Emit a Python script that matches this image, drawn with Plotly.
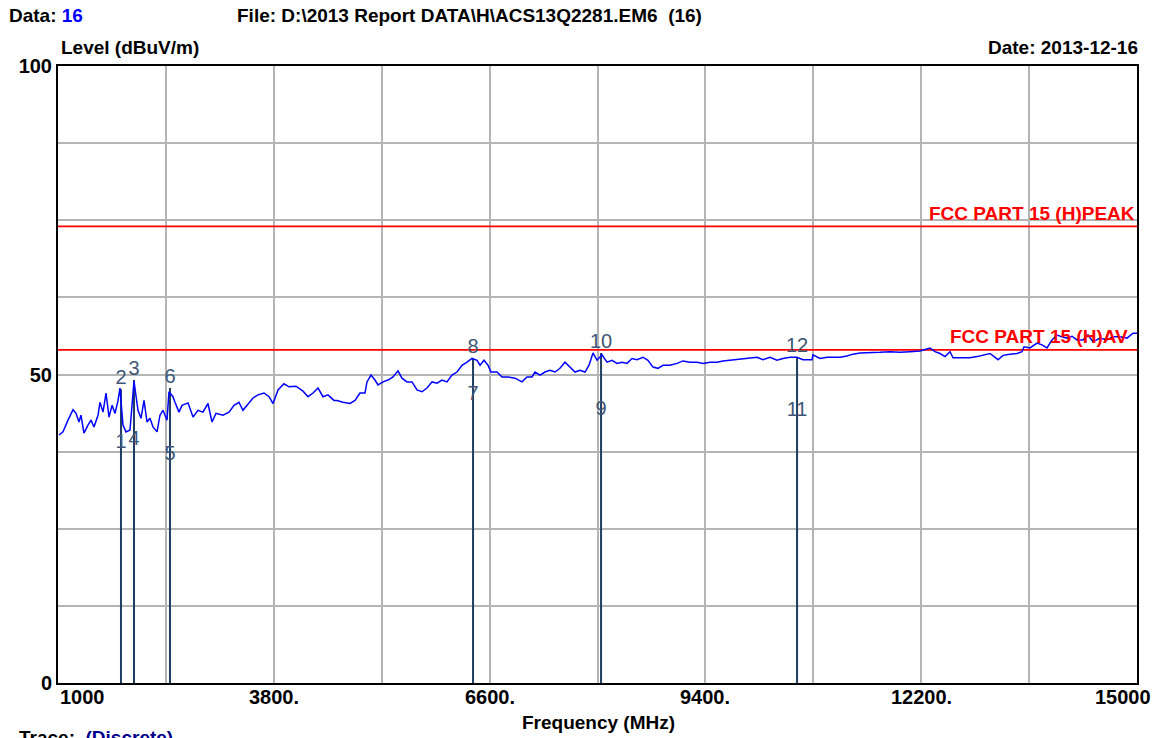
import plotly.graph_objects as go

# ---------------- data ----------------
freq_mhz = [1013, 1065, 1130, 1195, 1234, 1272, 1298, 1337, 1389, 1428, 1467, 1519, 1545, 1584, 1623,
            1662, 1701, 1740, 1779, 1804, 1843, 1882, 1934, 1986, 2038, 2077, 2116, 2155, 2193, 2233,
            2285, 2323, 2362, 2414, 2440, 2492, 2518, 2570, 2609, 2687, 2752, 2816, 2881, 2946, 2998,
            3050, 3141, 3219, 3284, 3348, 3400, 3465, 3530, 3595, 3673, 3738, 3790, 3855, 3932, 3997,
            4088, 4179, 4244, 4309, 4374, 4438, 4503, 4581, 4620, 4698, 4789, 4854, 4918, 4983, 5009,
            5061, 5113, 5152, 5217, 5282, 5347, 5412, 5463, 5528, 5593, 5658, 5723, 5788, 5853, 5918,
            5982, 6047, 6112, 6177, 6242, 6307, 6372, 6437, 6476, 6527, 6579, 6618, 6696, 6761, 6839,
            6930, 7020, 7085, 7150, 7189, 7254, 7319, 7384, 7449, 7513, 7578, 7643, 7708, 7773, 7838,
            7890, 7942, 7994, 8058, 8123, 8188, 8253, 8318, 8383, 8448, 8513, 8590, 8655, 8720, 8785,
            8850, 8941, 9032, 9109, 9200, 9291, 9369, 9460, 9551, 9628, 9719, 9810, 9888, 9979, 10070,
            10147, 10238, 10329, 10407, 10498, 10589, 10666, 10783, 10796, 10887, 10978, 11056, 11147,
            11237, 11315, 11406, 11497, 11536, 11665, 11795, 11925, 12055, 12184, 12314, 12379, 12444,
            12509, 12574, 12613, 12703, 12833, 12924, 13002, 13093, 13197, 13261, 13352, 13443, 13508,
            13534, 13612, 13703, 13767, 13832, 13897, 13962, 14027, 14092, 14157, 14222, 14300, 14364,
            14429, 14520, 14611, 14689, 14780, 14871, 14948, 15000]
level_dbuv = [40.2, 40.7, 42.6, 44.3, 43.7, 42.3, 43.4, 40.5, 41.8, 42.6, 41.5, 43.4, 45.5, 43.9, 47.0,
              43.1, 45.0, 43.7, 45.8, 47.8, 41.8, 40.7, 41.0, 48.9, 44.2, 42.9, 45.8, 42.3, 42.9, 41.5,
              40.7, 43.4, 44.2, 42.6, 47.2, 46.4, 45.5, 43.9, 45.0, 45.4, 43.1, 44.2, 43.9, 45.3, 42.3,
              43.7, 43.4, 43.9, 45.0, 45.5, 44.2, 45.3, 46.2, 46.7, 47.0, 46.4, 45.3, 47.5, 48.5, 48.0,
              48.1, 47.3, 46.4, 47.0, 47.8, 46.4, 46.7, 45.8, 45.8, 45.5, 45.3, 45.8, 47.0, 47.0, 48.8,
              49.9, 49.1, 48.3, 48.8, 49.1, 49.6, 50.6, 49.4, 48.8, 48.8, 47.5, 47.2, 47.8, 48.8, 48.6,
              49.1, 48.8, 49.9, 50.4, 51.5, 52.0, 52.6, 52.3, 51.5, 52.3, 51.5, 50.4, 50.4, 49.6, 49.6,
              49.4, 48.8, 49.6, 49.6, 50.4, 49.9, 50.4, 50.7, 50.4, 51.0, 52.0, 51.2, 50.4, 50.7, 50.4,
              51.5, 53.5, 52.3, 53.2, 52.0, 52.3, 51.8, 52.0, 51.8, 52.6, 52.4, 52.8, 52.3, 51.2, 51.0,
              51.5, 51.5, 51.8, 52.2, 52.0, 52.0, 51.8, 52.0, 52.0, 52.2, 52.3, 52.4, 52.6, 52.6, 52.8,
              52.4, 52.8, 52.3, 52.6, 52.8, 52.8, 52.4, 52.4, 53.2, 52.6, 52.8, 52.8, 52.8,
              53.0, 53.3, 53.5, 53.5, 53.6, 53.6, 53.7, 53.6, 53.7, 53.8, 54.3, 53.7, 53.4,
              52.9, 53.7, 52.7, 52.7, 52.7, 52.9, 53.1, 53.4, 52.4, 53.1, 53.3, 53.4, 53.7,
              54.5, 54.3, 55.1, 54.8, 54.3, 55.6, 56.4, 56.1, 55.9, 56.2, 55.6, 55.6, 56.4,
              55.3, 55.9, 55.6, 56.1, 56.1, 55.9, 56.7, 56.7]

marker_freq = [1817, 1817, 1986, 1986, 2453, 2453, 6385, 6385, 8046, 8046, 10589, 10589]
marker_level = [37.3, 47.6, 49.1, 37.8, 35.3, 47.8, 45.1, 52.6, 42.6, 53.5, 42.5, 52.8]
marker_label = ["1", "2", "3", "4", "5", "6", "7", "8", "9", "10", "11", "12"]

limit_names = ["FCC PART 15 (H)PEAK", "FCC PART 15 (H)AV"]
limit_values = [74, 54]

x_min, x_max, x_step = 1000, 15000, 1400
y_min, y_max, y_step = 0, 100, 12.5
xtick_vals = [1000, 3800, 6600, 9400, 12200, 15000]
xtick_text = ["1000", "3800.", "6600.", "9400.", "12200.", "15000"]
ytick_vals = [0, 50, 100]
ytick_text = ["0", "50", "100"]

# ---------------- figure ----------------
FONT = "Liberation Sans"
L, R, T, B = 58, 19, 66, 55
W, H = 1156, 738
PW = W - L - R

fig = go.Figure()

# marker vertical lines (from 0 to the higher of each pair)
lx, ly = [], []
seen = {}
for f, v in zip(marker_freq, marker_level):
    seen[f] = max(seen.get(f, 0), v)
for f, v in seen.items():
    lx += [f, f, None]
    ly += [0, v, None]
fig.add_trace(go.Scatter(x=lx, y=ly, mode="lines",
                         line=dict(color="#1f3d63", width=2), hoverinfo="skip"))

# limit lines
for v in limit_values:
    fig.add_trace(go.Scatter(x=[x_min, x_max], y=[v, v], mode="lines",
                             line=dict(color="#ff0000", width=1.8), hoverinfo="skip"))

# measured trace
fig.add_trace(go.Scatter(x=freq_mhz, y=level_dbuv, mode="lines",
                         line=dict(color="#0000ff", width=1.5), hoverinfo="skip"))

# marker labels
fig.add_trace(go.Scatter(x=marker_freq, y=marker_level, mode="text", text=marker_label,
                         textposition="top center",
                         textfont=dict(family=FONT, size=20, color="#3e5675"),
                         hoverinfo="skip"))

grid_x = [x_min + i * x_step for i in range(int((x_max - x_min) / x_step) + 1)]
grid_y = [y_min + i * y_step for i in range(int((y_max - y_min) / y_step) + 1)]

fig.update_xaxes(range=[x_min, x_max], tickvals=grid_x, showticklabels=False,
                 showgrid=True, gridcolor="#b4b4b4", gridwidth=1.6, zeroline=False,
                 showline=True, linecolor="#000000", linewidth=2, mirror=True, ticks="")
fig.update_yaxes(range=[y_min, y_max], tickvals=grid_y,
                 ticktext=[ytick_text[ytick_vals.index(v)] if v in ytick_vals else "" for v in grid_y],
                 tickfont=dict(family=FONT, size=20, color="#000000", weight="bold"),
                 showgrid=True, gridcolor="#b4b4b4", gridwidth=1.6, zeroline=False,
                 showline=True, linecolor="#000000", linewidth=2, mirror=True, ticks="")


def ann(text, xpx, ypx, xanchor="left", size=19, color="#000000", bold=True, yanchor="middle"):
    fig.add_annotation(text=("<b>%s</b>" % text) if bold else text,
                       xref="paper", yref="paper", x=(xpx - L) / PW, y=1,
                       yshift=T - ypx, xanchor=xanchor, yanchor=yanchor, showarrow=False,
                       font=dict(family=FONT, size=size, color=color), borderpad=0)


ann("Data: <span style='color:#0000ff'>16</span>", 8, 15)
ann("File: D:\\2013 Report DATA\\H\\ACS13Q2281.EM6&nbsp;&nbsp;(16)", 236, 15)
ann("Level (dBuV/m)", 60, 47)
ann("Date: 2013-12-16", 1139, 47, xanchor="right")
ann("Frequency (MHz)", 598, 722, xanchor="center")
ann("Trace:&nbsp;&nbsp;<span style='color:#00008b'>(Discrete)</span>", 18, 726, yanchor="top")

# limit names
ann(limit_names[0], 1136, 213, xanchor="right", color="#ff0000")
ann(limit_names[1], 1129, 336, xanchor="right", color="#ff0000")

# x tick labels
for v, t in zip(xtick_vals, xtick_text):
    px = L + (v - x_min) / (x_max - x_min) * PW
    if v == x_min:
        ann(t, px + 1, 697, xanchor="left", size=20)
    elif v == x_max:
        ann(t, px + 15, 697, xanchor="right", size=20)
    else:
        ann(t, px, 697, xanchor="center", size=20)

fig.update_layout(width=W, height=H, margin=dict(l=L, r=R, t=T, b=B),
                  paper_bgcolor="white", plot_bgcolor="white", showlegend=False,
                  hovermode=False, font=dict(family=FONT))

fig.write_html("out.html", config={"displayModeBar": False},
               post_script="document.body.style.margin='0';document.body.style.overflow='hidden';")
